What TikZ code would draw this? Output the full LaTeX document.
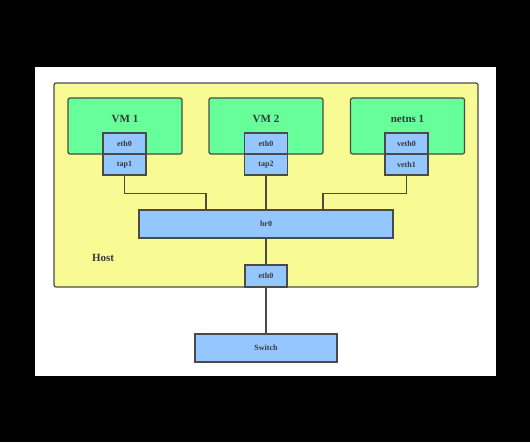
\documentclass[tikz,border=0pt]{standalone}
\usepackage{fontspec}
\setmainfont{Liberation Serif}
\usepackage{tikz}
\usepackage{xcolor}

\definecolor{hostyellow}{HTML}{F8FA94}
\definecolor{vmgreen}{HTML}{66FF99}
\definecolor{ifblue}{HTML}{94C6FF}
\definecolor{edgegray}{HTML}{4A4A4A}

\tikzset{
  hostbox/.style={draw=edgegray,fill=hostyellow,line width=1.2pt,rounded corners=2pt,
    minimum width=424pt,minimum height=204pt,inner sep=0pt},
  vmbox/.style={draw=edgegray,fill=vmgreen,line width=1.2pt,rounded corners=2pt,
    minimum width=114pt,minimum height=56pt,inner sep=0pt},
  ifbox/.style={draw=edgegray,fill=ifblue,line width=1.2pt,
    minimum width=43pt,minimum height=21pt,inner sep=0pt,font=\bfseries\fontsize{8}{9}\selectfont},
  bigbox/.style={ifbox,minimum height=28pt},
  title/.style={font=\bfseries\fontsize{11}{13}\selectfont},
  wire/.style={draw=edgegray,line width=1.2pt}
}

\begin{document}
\begin{tikzpicture}[x=1pt,y=-1pt,every node/.style={text=edgegray!75!black}]
\fill[black] (0,0) rectangle (530,442);
\fill[white] (35,67) rectangle (496,376);
% host
\node[hostbox] (host) at (266,185) {};
\node[title] (hostlbl) at (103,258) {Host};
% guests
\node[vmbox] (vm1) at (125,126) {};
\node[title] (vm1lbl) at (125,119) {VM 1};
\node[vmbox] (vm2) at (266,126) {};
\node[title] (vm2lbl) at (266,119) {VM 2};
\node[vmbox] (ns1) at (407.5,126) {};
\node[title] (ns1lbl) at (407.5,119) {netns 1};
% interfaces
\node[ifbox] (vm1eth) at (124.5,143.5) {eth0};
\node[ifbox] (tap1) at (124.5,164.5) {tap1};
\node[ifbox] (vm2eth) at (266,143.5) {eth0};
\node[ifbox] (tap2) at (266,164.5) {tap2};
\node[ifbox] (veth0) at (406.5,143.5) {veth0};
\node[ifbox] (veth1) at (406.5,164.5) {veth1};
% bridge, uplink
\node[bigbox,minimum width=254pt] (br0) at (266,224) {br0};
\node[ifbox,minimum width=42pt,minimum height=22pt] (heth) at (266,276) {eth0};
\node[bigbox,minimum width=142pt] (switch) at (266,348) {Switch};
% wires
\draw[wire] (tap1.south) -- ++(0,18) -| ([xshift=-60pt]br0.north);
\draw[wire] (tap2.south) -- (br0.north);
\draw[wire] (veth1.south) -- ++(0,18) -| ([xshift=57pt]br0.north);
\draw[wire] (br0.south) -- (heth.north);
\draw[wire] (heth.south) -- (switch.north);
\end{tikzpicture}
\end{document}
